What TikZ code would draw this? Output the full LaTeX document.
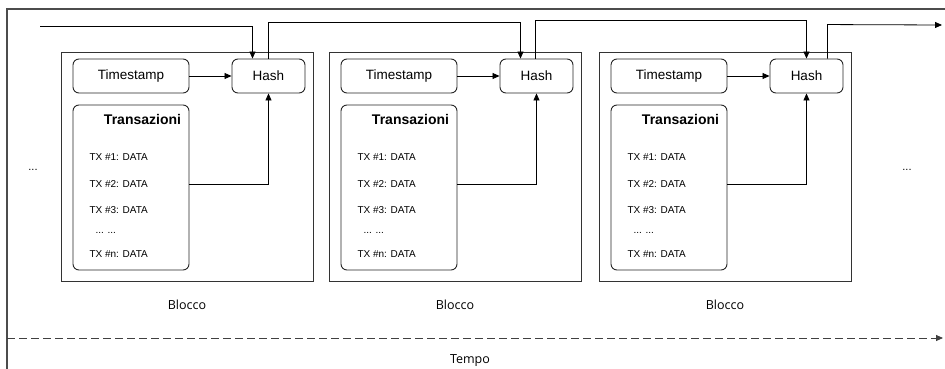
\documentclass[tikz,border=0pt]{standalone}
\usepackage{fontspec}
\setmainfont{Liberation Sans}
\newfontfamily\labelfont{Open Sans}
\usetikzlibrary{calc,arrows.meta}

\begin{document}
\begin{tikzpicture}[x=1pt,y=-1pt,
  blockbox/.style={draw=black!80,line width=0.9pt,minimum width=252pt,minimum height=229pt},
  box/.style={draw=black!85,line width=0.9pt,rounded corners=6pt,inner sep=0pt,
    font=\fontsize{13.5}{16}\selectfont},
  link/.style={-{Triangle[length=7pt,width=6pt]},line width=0.8pt},
  txline/.style={anchor=west,font=\fontsize{10}{12}\selectfont}]
  \useasboundingbox (0,0) rectangle (945,369);

  % frame
  \draw[black!70,line width=2pt] (7,369) -- (7,9) -- (945,9);

  % the three blocks
  \foreach \i/\dx in {1/0,2/268,3/538} {
    \node[blockbox] (blk\i) at (187+\dx,166.5) {};
    \node[box,minimum width=116pt,minimum height=34pt] (ts\i) at (131+\dx,76) {Timestamp};
    \node[box,minimum width=73pt,minimum height=34pt] (hash\i) at (268.5+\dx,76) {Hash};
    \node[box,minimum width=116pt,minimum height=165pt] (tx\i) at (131+\dx,187.5) {};
    \node[font=\fontsize{14}{16}\selectfont\bfseries] (title\i) at (142.5+\dx,119) {Transazioni};
    \node[txline] (txa\i) at (86+\dx,157) {TX \#1: DATA};
    \node[txline] (txb\i) at (86+\dx,184) {TX \#2: DATA};
    \node[txline] (txc\i) at (86+\dx,210) {TX \#3: DATA};
    \node[txline] (txd\i) at (92+\dx,233) {... ...};
    \node[txline] (txn\i) at (86+\dx,254) {TX \#n: DATA};
    \node[font=\labelfont\fontsize{12.5}{15}\selectfont] (lbl\i) at (187+\dx,305) {Blocco};
    % inside the block
    \draw[link] (ts\i) -- (hash\i);
    \draw[link] ([yshift=3.5pt]tx\i.east) -| (hash\i.south);
  }

  % chain of hashes
  \coordinate (in) at (40,26);
  \coordinate (out) at (942,25);
  \draw[link] (in) -| ([xshift=-16pt]hash1.north);
  \draw[link] (hash1.north) -- ++(0,-36) -| ([xshift=-16pt]hash2.north);
  \draw[link] ([xshift=-1.5pt]hash2.north) -- ++(0,-38) -| (hash3.north);
  \draw[link] ([xshift=21pt]hash3.north) -- ++(0,-34) -- (out);

  % more blocks
  \node[font=\fontsize{11}{12}\selectfont] (moreL) at (33,170) {...};
  \node[font=\fontsize{11}{12}\selectfont] (moreR) at (907,170) {...};

  % time axis
  \coordinate (t0) at (7,338);
  \coordinate (t1) at (943,338);
  \draw[link,black!75,dash pattern=on 8pt off 4pt] (t0) -- (t1);
  \node[font=\labelfont\fontsize{12.5}{15}\selectfont] (tempo) at (470,361) {Tempo};
\end{tikzpicture}
\end{document}
